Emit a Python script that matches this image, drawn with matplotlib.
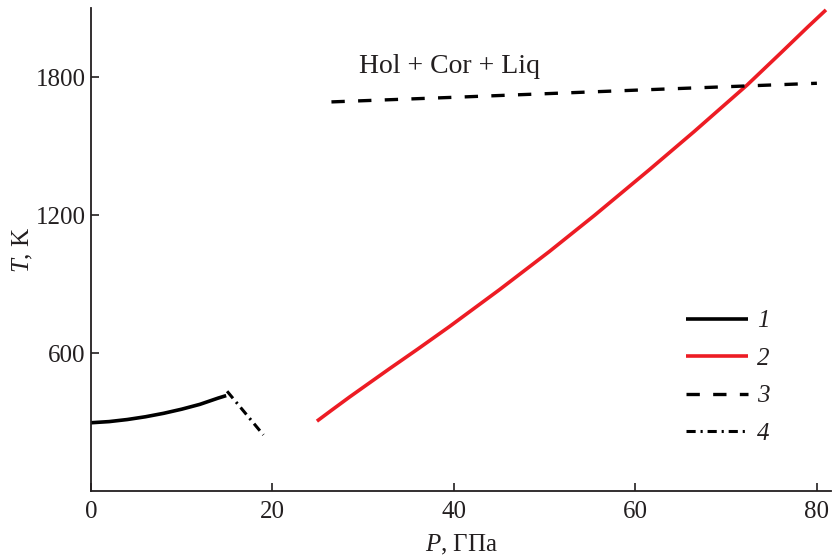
import matplotlib
matplotlib.use("Agg")
import matplotlib.pyplot as plt

# данные
p1 = [0.0, 2.0, 4.0, 6.0, 8.0, 10.0, 12.0, 14.0, 14.9]
t1 = [298, 303, 312, 324, 339, 357, 378, 405, 416]

p2 = [24.9, 26.5, 28.5, 30.5, 32.9, 36.0, 39.5, 45.0, 50.5, 55.5, 61.5, 66.5, 72.3, 76.0, 79.0, 81.0]
t2 = [305, 352, 410, 466, 533, 618, 716, 876, 1042, 1200, 1397, 1565, 1766, 1905, 2019, 2093]

p3 = [26.5, 40.0, 60.0, 80.0]
t3 = [1693, 1713, 1744, 1774]

p4 = [15.0, 19.0]
t4 = [435, 245]

labels = ["1", "2", "3", "4"]
xticks = [0, 20, 40, 60, 80]
yticks = [600, 1200, 1800]

plt.rcParams["font.family"] = ["Liberation Serif", "DejaVu Serif"]
plt.rcParams["font.size"] = 18
plt.rcParams["mathtext.fontset"] = "custom"
plt.rcParams["mathtext.rm"] = "Liberation Serif"
plt.rcParams["mathtext.it"] = "Liberation Serif:italic"
ink = "#231f20"

fig = plt.figure(figsize=(8.34, 5.60), dpi=100)
ax = fig.add_axes([0.1091, 0.1227, 0.8878, 0.8625])

ax.plot(p1, t1, color="black", lw=2.6, label=labels[0], solid_capstyle="butt")
ax.plot(p2, t2, color="#ed1c24", lw=2.6, label=labels[1], solid_capstyle="butt")
ax.plot(p3, t3, color="black", lw=2.4, ls=(0, (4, 4)), label=labels[2])
ax.plot(p4, t4, color="black", lw=2.2, ls=(0, (3, 1.6, 0.7, 1.6)), label=labels[3])

ax.text(29.5, 1817, "Hol + Cor + Liq", color=ink, fontsize=20, va="baseline")

ax.set_xlim(0, 81.6)
ax.set_ylim(0, 2100)
ax.set_xticks(xticks)
ax.set_yticks(yticks)

for side in ["top", "right"]:
    ax.spines[side].set_visible(False)
for side in ["left", "bottom"]:
    ax.spines[side].set_linewidth(1.3)
    ax.spines[side].set_color(ink)

ax.tick_params(direction="in", length=6, width=1.2, colors=ink, labelsize=18)
ax.tick_params(axis="y", pad=4)
ax.tick_params(axis="x", pad=7)

ax.set_xlabel(r"$\it{P}$, ГПа", color=ink, fontsize=18, labelpad=7)
ax.set_ylabel(r"$\it{T}$, K", color=ink, fontsize=18)
ax.yaxis.set_label_coords(-0.076, 0.5)

leg = ax.legend(loc="upper left", bbox_to_anchor=(0.773, 0.4224), frameon=False,
                handlelength=2.5, handletextpad=0.35, labelspacing=0.6,
                prop={"style": "italic", "size": 18})
for txt in leg.get_texts():
    txt.set_color(ink)

fig.savefig("out.png", dpi=100)
